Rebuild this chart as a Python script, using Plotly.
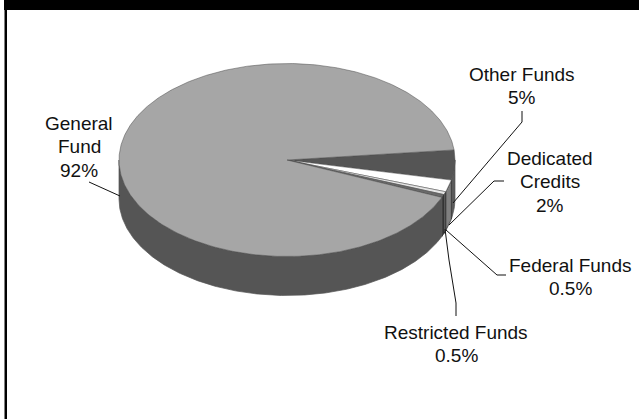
import numpy as np
import plotly.graph_objects as go

# Budget shares by funding source, clockwise from the first slice
categories = ["Other Funds", "Dedicated Credits", "Federal Funds", "Restricted Funds", "General Fund"]
shares = [5, 2, 0.5, 0.5, 92]
share_labels = ["5%", "2%", "0.5%", "0.5%", "92%"]
label_lines = [["Other Funds"], ["Dedicated", "Credits"], ["Federal Funds"], ["Restricted Funds"], ["General", "Fund"]]
top_colors = ["#555555", "#ffffff", "#e6e6e6", "#6a6a6a", "#a6a6a6"]
side_colors = ["#5a5a5a", "#808080", "#8c8c8c", "#4a4a4a", "#555555"]
side_edges = ["#555555", "#222222", "#111111", "#111111", "#555555"]

# Tilted-disc geometry on the 639x419 canvas
CX, CY, RX, RY, DEPTH = 287, 160, 168, 96.5, 39
START_DEG = 6.0
LINE_GAP = 23.5


def rim(deg):
    t = np.radians(deg)
    return CX + RX * np.cos(t), CY - RY * np.sin(t)


def arc(a, b):
    n = max(int(abs(b - a) * 2), 2)
    return np.linspace(a, b, n + 1)


fracs = np.array(shares) / sum(shares) * 360
ends = START_DEG - np.cumsum(fracs)
starts = ends + fracs

fig = go.Figure()


def poly(xs, ys, fill, line="#333333", w=0.6):
    fig.add_trace(go.Scatter(x=xs, y=ys, mode="lines", fill="toself", fillcolor=fill,
                             line=dict(color=line, width=w), hoverinfo="skip", showlegend=False))


# Side walls: only the front half of the rim (below the centre line) is visible
for a, b, c, e in zip(starts, ends, side_colors, side_edges):
    lo = min(a, 0)
    hi = max(b, -180)
    xs, ys = rim(arc(lo, hi))
    px = np.concatenate([xs, xs[::-1], xs[:1]])
    py = np.concatenate([ys, ys[::-1] + DEPTH, ys[:1]])
    poly(px, py, c, line=e, w=0.7)

# Top faces of the slices
for a, b, c in zip(starts, ends, top_colors):
    xs, ys = rim(arc(a, b))
    px = np.concatenate([[CX], xs, [CX]])
    py = np.concatenate([[CY], ys, [CY]])
    poly(px, py, c, line="#4a4a4a", w=0.5)

# Leader lines, from the slice out to the label, with their elbows
leader_points = {
    "Other Funds": [(453, 203), (522, 122), (522, 111)],
    "Dedicated Credits": [(449, 225), (494, 181), (504, 181)],
    "Federal Funds": [(446, 230), (497, 275), (506, 275)],
    "Restricted Funds": [(445, 229), (449, 260), (456, 303), (456, 316)],
    "General Fund": [(120, 196), (89, 182)],
}
for pts in leader_points.values():
    fig.add_trace(go.Scatter(x=[p[0] for p in pts], y=[p[1] for p in pts], mode="lines",
                             line=dict(color="#111111", width=1), hoverinfo="skip", showlegend=False))

# Label text: centre x and first-line y, one annotation per line of text
label_anchor = {
    "Other Funds": (522, 74),
    "Dedicated Credits": (550, 158),
    "Federal Funds": (570, 265),
    "Restricted Funds": (456, 332),
    "General Fund": (79, 123),
}
annotations = []
for cat, lines, lab in zip(categories, label_lines, share_labels):
    x, y = label_anchor[cat]
    for i, row in enumerate(lines + [lab]):
        annotations.append(dict(x=x, y=y + i * LINE_GAP, xref="x", yref="y", showarrow=False,
                                text=row, font=dict(family="Liberation Sans", size=19, color="#111111")))

# Page frame: heavy black rule on top, thinner one on the left
shapes = [
    dict(type="rect", x0=4, x1=639, y0=0, y1=10, fillcolor="#000000", line_width=0, layer="above"),
    dict(type="rect", x0=5, x1=7, y0=0, y1=419, fillcolor="#000000", line_width=0, layer="above"),
    dict(type="rect", x0=4, x1=5, y0=10, y1=419, fillcolor="#808080", line_width=0, layer="above"),
]

fig.update_layout(
    width=639, height=419, margin=dict(l=0, r=0, t=0, b=0), autosize=False,
    paper_bgcolor="#ffffff", plot_bgcolor="#ffffff", showlegend=False,
    xaxis=dict(range=[0, 639], visible=False, fixedrange=True),
    yaxis=dict(range=[419, 0], visible=False, fixedrange=True),
    annotations=annotations, shapes=shapes,
)
fig.write_html("out.html", config={"displayModeBar": False})
